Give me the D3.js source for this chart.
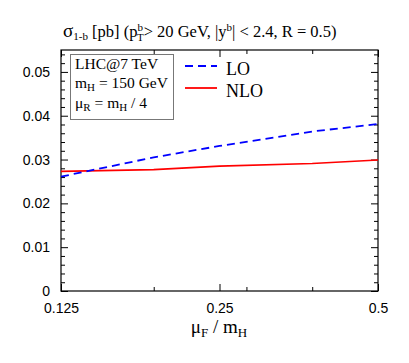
<!DOCTYPE html>
<html><head><meta charset="utf-8">
<script src="https://cdn.jsdelivr.net/npm/d3@7"></script>
<style>body{margin:0;background:#fff}svg{display:block}</style>
</head><body>
<script>
const muF = [0.125, 0.1875, 0.25, 0.375, 0.5];
const LO = [0.0261, 0.0305, 0.0331, 0.0364, 0.0381];
const NLO = [0.0273, 0.0277, 0.0285, 0.0291, 0.0299];
const xTicks = [0.125, 0.25, 0.5];
const xMinor = [0.1875, 0.28125, 0.375];
const yTicks = [0, 0.01, 0.02, 0.03, 0.04, 0.05];

const W = 409, H = 363;
const m = {l: 61, r: 378, t: 50, b: 291};
const svg = d3.select("body").append("svg").attr("width", W).attr("height", H);
const x = d3.scaleLog().domain([0.125, 0.5]).range([m.l, m.r]);
const y = d3.scaleLinear().domain([0, 0.055]).range([m.b, m.t]);
const serif = "'Liberation Serif', 'Times New Roman', serif";
const sans = "'Liberation Sans', Arial, sans-serif";

// axes
const fmtY = d => d === 0 ? "0" : d3.format(".2f")(d);
const yMinor = d3.range(0, 0.0551, 0.002).filter(v => !yTicks.some(t => Math.abs(t - v) < 1e-9));
function addAxis(gen, tx, ty, lab) {
  const g = svg.append("g").attr("transform", `translate(${tx},${ty})`).call(gen);
  g.select(".domain").remove();
  g.selectAll("line").attr("stroke", "#000");
  if (!lab) g.selectAll("text").remove();
  else g.selectAll("text").attr("font-family", sans).attr("font-size", 14).attr("fill", "#000");
  return g;
}
addAxis(d3.axisLeft(y).tickValues(yTicks).tickSize(-7).tickPadding(11).tickFormat(fmtY), m.l, 0, true);
addAxis(d3.axisLeft(y).tickValues(yMinor).tickSize(-4), m.l, 0, false);
addAxis(d3.axisRight(y).tickValues(yTicks).tickSize(-7), m.r, 0, false);
addAxis(d3.axisRight(y).tickValues(yMinor).tickSize(-4), m.r, 0, false);
addAxis(d3.axisBottom(x).tickValues(xTicks).tickSize(-7).tickPadding(12).tickFormat(d => String(d)), 0, m.b, true);
addAxis(d3.axisBottom(x).tickValues(xMinor).tickSize(-4), 0, m.b, false);
addAxis(d3.axisTop(x).tickValues(xTicks).tickSize(-7), 0, m.t, false);
addAxis(d3.axisTop(x).tickValues(xMinor).tickSize(-4), 0, m.t, false);

svg.append("rect").attr("x", m.l).attr("y", m.t).attr("width", m.r - m.l).attr("height", m.b - m.t)
  .attr("fill", "none").attr("stroke", "#000").attr("stroke-width", 1.2);

// lines
const line = d3.line().x(d => x(d[0])).y(d => y(d[1]));
svg.append("path").datum(muF.map((v, i) => [v, NLO[i]])).attr("d", line)
  .attr("fill", "none").attr("stroke", "#ff0000").attr("stroke-width", 1.7);
svg.append("path").datum(muF.map((v, i) => [v, LO[i]])).attr("d", line)
  .attr("fill", "none").attr("stroke", "#0000ff").attr("stroke-width", 1.8).attr("stroke-dasharray", "8,5");

// info box
svg.append("rect").attr("x", 70.5).attr("y", 54.5).attr("width", 103).attr("height", 65)
  .attr("fill", "#fff").attr("stroke", "#777").attr("stroke-width", 1);
const info = svg.append("g").attr("font-family", serif).attr("font-size", 15.5).attr("fill", "#000");
info.append("text").attr("x", 75).attr("y", 69).text("LHC@7 TeV");
const t2 = info.append("text").attr("x", 75).attr("y", 88);
t2.append("tspan").text("m");
t2.append("tspan").attr("dy", 3).attr("font-size", 11).text("H");
t2.append("tspan").attr("dy", -3).text(" = 150 GeV");
const t3 = info.append("text").attr("x", 75).attr("y", 108);
t3.append("tspan").text("μ");
t3.append("tspan").attr("dy", 3).attr("font-size", 11).text("R");
t3.append("tspan").attr("dy", -3).text(" = m");
t3.append("tspan").attr("dy", 3).attr("font-size", 11).text("H");
t3.append("tspan").attr("dy", -3).text(" / 4");

// legend
const leg = [{n: "LO", c: "#0000ff", d: "8,5", y: 66}, {n: "NLO", c: "#ff0000", d: null, y: 88}];
leg.forEach(e => {
  svg.append("line").attr("x1", 185).attr("x2", 217).attr("y1", e.y).attr("y2", e.y)
    .attr("stroke", e.c).attr("stroke-width", 1.8).attr("stroke-dasharray", e.d);
  svg.append("text").attr("x", 226).attr("y", e.y + 8.5).attr("font-family", serif).attr("font-size", 18)
    .attr("fill", "#000").text(e.n);
});

// title
const tt = svg.append("text").attr("x", 63).attr("y", 37).attr("font-family", serif).attr("font-size", 16.5).attr("fill", "#000");
tt.append("tspan").attr("font-size", 19).text("σ");
tt.append("tspan").attr("dy", 3).attr("font-size", 11).text("1-b");
tt.append("tspan").attr("dy", -3).text(" [pb] (p");
tt.append("tspan").attr("dy", -6).attr("font-size", 11).text("b");
tt.append("tspan").attr("dx", -6).attr("dy", 10).attr("font-size", 11).text("T");
tt.append("tspan").attr("dy", -4).text("> 20 GeV, |y");
tt.append("tspan").attr("dy", -6).attr("font-size", 11).text("b");
tt.append("tspan").attr("dy", 6).text("| < 2.4,  R = 0.5)");

// x title
const xt = svg.append("text").attr("x", 219).attr("y", 333).attr("text-anchor", "middle")
  .attr("font-family", serif).attr("font-size", 19).attr("fill", "#000");
xt.append("tspan").text("μ");
xt.append("tspan").attr("dy", 4).attr("font-size", 13).text("F");
xt.append("tspan").attr("dy", -4).text(" / m");
xt.append("tspan").attr("dy", 4).attr("font-size", 13).text("H");
</script>
</body></html>
